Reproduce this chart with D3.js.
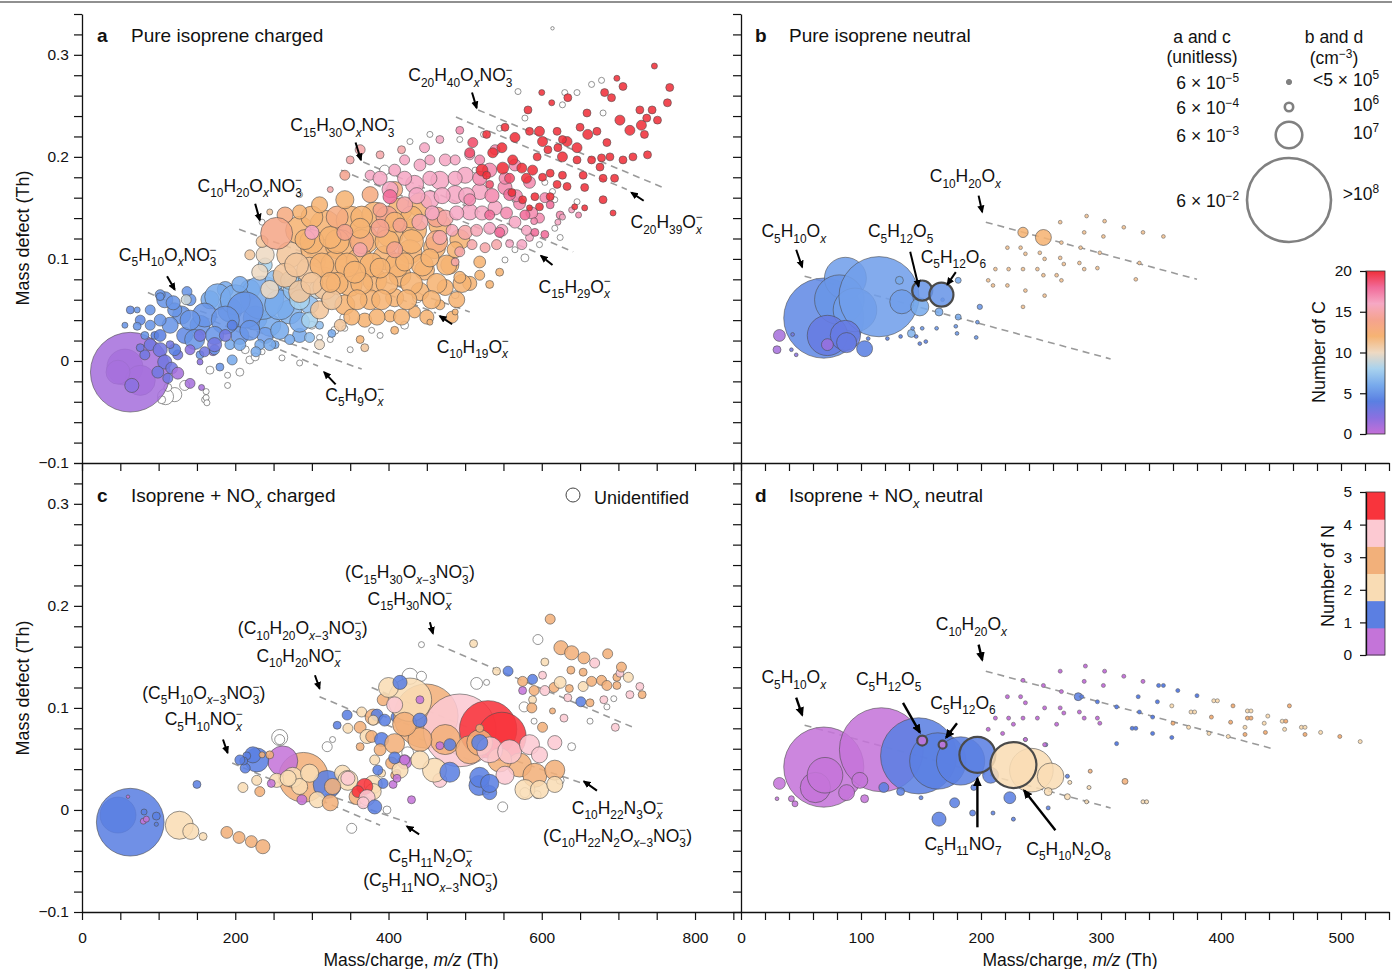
<!DOCTYPE html>
<html>
<head>
<meta charset="utf-8">
<script src="https://cdn.jsdelivr.net/npm/d3@7"></script>
<style>
  body { margin: 0; background: #fff; }
  text { font-family: "Liberation Sans", Arial, Helvetica, sans-serif; fill: #111; }
</style>
</head>
<body>
<svg id="fig" width="1392" height="969"></svg>
<script>
// ---------- data: [m/z (Th), mass defect (Th), signal, number of C or N] ----------
// a: pure isoprene, charged (signal unitless); nC = number of carbon atoms
var aPurple = [
  [56,-0.006,0.011,1],[76,-0.019,0.0077,1],[47,-0.011,0.0049,1],[63,-0.011,0.054,1],
  [89,0.016,0.0012,3],[102,0.011,0.0017,3],[82,0.006,0.00085,3],[108,-0.001,0.0017,3],[99,-0.011,0.0012,3],
  [117,-0.007,0.0012,3],[125,0.006,0.00085,3],[76,0.013,0.00054,3],[95,0.025,0.00054,4],[112,-0.017,0.00085,3],
  [65,-0.024,0.0017,2],[125,-0.012,0.0012,1],[141,-0.022,0.00085,1],[156,-0.026,0.00031,1],[171,0.009,0.00054,2],[154,-0.001,0.00031,2]
];
var aC5 = [
  [108,0.060,0.0022,5],[130,0.045,0.0028,5],[154,0.035,0.0034,5],[193,0.050,0.0049,5.5],[226,0.042,0.0049,5.5],
  [245,0.035,0.0041,6],[271,0.048,0.0049,6.5],[167,0.060,0.0028,6],[219,0.070,0.0034,6.5],[187,0.070,0.0022,6],
  [134,0.025,0.0022,4.5],[206,0.025,0.0028,5],[239,0.025,0.0022,5.5],[284,0.025,0.0017,6],[102,0.025,0.0012,4],
  [121,0.011,0.0012,4],[76,0.040,0.00085,4.5],[63,0.050,0.00054,4.5],
  [177,0.063,0.0057,6],[235,0.062,0.016,6],[200,0.060,0.0077,6],[213,0.050,0.011,5],[258,0.055,0.0077,6],
  [160,0.045,0.0049,5],[187,0.040,0.0067,5],[141,0.040,0.0034,5],[115,0.035,0.0022,5],[147,0.021,0.0034,5],
  [173,0.025,0.0028,5],[219,0.030,0.0034,5],[258,0.030,0.0028,6],[284,0.038,0.0034,6],[297,0.055,0.0028,7],
  [278,0.070,0.0049,7],[252,0.079,0.0034,7],[206,0.075,0.0022,6],[141,0.060,0.0012,5],[121,0.050,0.0017,5],
  [102,0.040,0.0012,5],[89,0.035,0.00085,5],[72,0.034,0.00054,5],[56,0.035,0.00031,5],[72,0.050,0.00031,5],
  [82,0.025,0.00054,5],[102,0.065,0.00085,5],[119,0.057,0.0017,5],[137,0.068,0.00085,5],[136,0.060,0.00085,9],
  [102,0.063,0.00054,5],[89,0.050,0.00085,5],[154,0.006,0.00054,5],[173,0.011,0.00085,5],[193,0.016,0.00085,6],
  [206,0.016,0.0012,6],[232,0.016,0.00085,6],[252,0.016,0.00054,6],[271,0.021,0.00085,6],[297,0.023,0.00085,7],
  [310,0.035,0.00054,7],[173,0.016,0.0017,3],[154,0.025,0.0012,3],[187,0.025,0.0012,3],[141,0.011,0.00085,2],
  [160,0.009,0.00085,3],[115,0.016,0.00054,3],[196,0.035,0.00085,4],[180,-0.006,0.00054,5],[196,0.001,0.00085,6],
  [227,0.009,0.00085,6],[245,0.016,0.0012,6],[326,0.027,0.00054,6],
  [271,0.079,0.0028,8],[284,0.060,0.0034,8],[308,0.070,0.0028,9],[297,0.040,0.0022,8],[324,0.060,0.0028,9],
  [317,0.084,0.0022,9],[239,0.094,0.0017,8],[310,0.097,0.0012,9]
];
var aC10 = [
  [284,0.128,0.0067,12],[317,0.133,0.0077,12],[350,0.138,0.0067,12],[382,0.143,0.0057,12],[415,0.148,0.0049,12],[441,0.153,0.0049,12],
  [271,0.104,0.0057,11],[304,0.109,0.0067,12],[337,0.114,0.0077,12],[369,0.119,0.0067,12],[402,0.124,0.0057,12],[434,0.128,0.0049,12],[467,0.133,0.0041,12],
  [265,0.084,0.0049,11],[297,0.089,0.0057,11],[330,0.094,0.0067,12],[363,0.097,0.0067,12],[395,0.101,0.0049,12],[428,0.107,0.0049,12],[460,0.111,0.0041,12],[493,0.119,0.0034,12],
  [284,0.068,0.0041,11],[317,0.072,0.0049,11],[350,0.075,0.0049,12],[382,0.079,0.0049,12],[415,0.084,0.0041,12],[447,0.089,0.0034,12],[480,0.094,0.0028,12],
  [310,0.050,0.0028,11],[343,0.055,0.0034,12],[376,0.060,0.0034,12],[408,0.062,0.0028,12],[441,0.068,0.0028,12],[474,0.072,0.0022,12],[506,0.076,0.0017,12],
  [337,0.035,0.0012,11],[369,0.040,0.0017,12],[402,0.044,0.0012,12],[434,0.048,0.0012,12],[467,0.055,0.00085,12],
  [300,0.117,0.0049,12],[333,0.117,0.0049,12],[365,0.117,0.0049,13],[398,0.117,0.0049,12],[430,0.117,0.0049,12],[463,0.117,0.0041,13],
  [280,0.094,0.0049,11],[313,0.094,0.0049,12],[346,0.094,0.0049,12],[378,0.094,0.0049,12],[411,0.094,0.0049,12],[444,0.094,0.0041,12],[476,0.094,0.0034,12],
  [300,0.076,0.0041,11],[333,0.076,0.0041,12],[365,0.076,0.0041,12],[398,0.076,0.0041,12],[430,0.076,0.0041,12],[463,0.076,0.0034,12],[496,0.076,0.0028,12],
  [326,0.060,0.0034,11],[359,0.060,0.0034,12],[391,0.060,0.0034,12],[424,0.060,0.0034,12],[456,0.060,0.0028,12],[489,0.060,0.0022,12],
  [352,0.043,0.0022,12],[385,0.043,0.0022,12],[417,0.043,0.0022,12],[450,0.043,0.0017,12],[483,0.043,0.0012,12],
  [300,0.141,0.0041,12],[333,0.141,0.0041,13],[365,0.141,0.0041,12],[398,0.141,0.0041,14],[430,0.141,0.0041,12],[463,0.141,0.0034,14],
  [239,0.104,0.0028,10],[232,0.087,0.0022,10],[245,0.070,0.0028,10],
  [310,0.153,0.0022,12],[343,0.158,0.0028,12],[376,0.163,0.0022,13],[408,0.168,0.0022,13],[284,0.146,0.0017,12],[265,0.143,0.0022,13],
  [235,0.117,0.0012,11],[219,0.104,0.00085,11],
  [291,0.119,0.0034,12],[356,0.087,0.0041,12],[324,0.077,0.0034,12],[389,0.091,0.0034,12],[421,0.097,0.0028,12],[454,0.101,0.0028,12],
  [408,0.136,0.0034,12],[363,0.130,0.0034,12],[324,0.121,0.0041,12],[487,0.109,0.0022,12],[519,0.097,0.0012,12],[519,0.084,0.00085,12],
  [493,0.082,0.0012,12],[532,0.075,0.00054,12],[545,0.087,0.00054,12],
  [343,0.126,0.0022,14],[389,0.130,0.0028,14],[408,0.109,0.0022,14],[300,0.126,0.0017,16],[363,0.109,0.0017,15],
  [254,0.125,0.0087,13.5],
  [363,0.021,0.00054,12],[408,0.030,0.00054,12],[454,0.038,0.00031,12],[487,0.048,0.00031,12],[369,0.013,0.00054,11],
  [310,0.016,0.00085,10],[245,0.146,0.00031,11],[324,0.168,0.00031,15]
];
var aC15 = [
  [376,0.182,0.00085,16],[408,0.187,0.0012,16],[441,0.192,0.0012,16],[474,0.197,0.0012,16],[506,0.202,0.00085,16],[539,0.207,0.00085,17],
  [402,0.168,0.0022,16],[434,0.173,0.0028,16],[467,0.177,0.0028,16],[500,0.182,0.0022,16],[532,0.187,0.0017,17],[565,0.192,0.0012,17],
  [421,0.153,0.0022,15],[454,0.158,0.0028,16],[487,0.163,0.0028,16],[519,0.166,0.0022,16],[552,0.170,0.0017,17],[584,0.175,0.0012,17],
  [441,0.136,0.0022,15],[474,0.140,0.0022,15],[506,0.146,0.0022,16],[539,0.150,0.0017,16],[571,0.154,0.0012,17],[604,0.160,0.00085,17],
  [467,0.121,0.0017,15],[500,0.126,0.0017,15],[532,0.130,0.0012,16],[565,0.136,0.0012,16],[597,0.140,0.00085,17],[624,0.143,0.00054,17],
  [493,0.107,0.00085,15],[526,0.111,0.00085,15],[558,0.115,0.00054,16],[584,0.121,0.00054,16],
  [389,0.179,0.0017,16],[421,0.179,0.0017,16],[454,0.179,0.0017,16],[487,0.179,0.0017,16],[519,0.179,0.0017,17],[552,0.179,0.0012,17],
  [437,0.162,0.0022,16],[470,0.162,0.0022,16],[502,0.162,0.0022,16],[535,0.162,0.0017,17],[567,0.162,0.0012,17],
  [457,0.145,0.0017,16],[489,0.145,0.0017,16],[522,0.145,0.0017,16],[554,0.145,0.0012,17],[587,0.145,0.0012,17],
  [483,0.128,0.0012,15.5],[515,0.128,0.0012,15.5],[548,0.128,0.0012,16],[580,0.128,0.00085,16],
  [509,0.114,0.00085,15],[541,0.114,0.00085,15],[574,0.114,0.00085,16],
  [421,0.197,0.00085,16],[454,0.197,0.00085,16],[487,0.197,0.00085,16],[519,0.197,0.00085,17],
  [389,0.148,0.0017,14],[415,0.133,0.0017,14],[487,0.097,0.00054,15],
  [558,0.163,0.0012,18],[532,0.143,0.00085,18],[578,0.143,0.00085,18],[545,0.126,0.00085,18],[591,0.126,0.00054,18],
  [506,0.158,0.0012,17],[611,0.153,0.00054,18],[604,0.124,0.00054,18],[402,0.161,0.0017,18],
  [363,0.207,0.00085,15],[389,0.202,0.00054,15],[417,0.207,0.00054,15],[447,0.209,0.00085,16],[350,0.197,0.00054,15],
  [343,0.182,0.00085,14],[467,0.217,0.00054,16],[493,0.226,0.00054,17],
  [639,0.148,0.00031,16],[648,0.143,0.00031,17],[627,0.141,0.00031,16],[621,0.136,0.00031,16],[590,0.137,0.0004,17]
];
var aC20 = [
  [522,0.187,0.0012,20],[549,0.189,0.0012,20],[536,0.204,0.00085,20],[548,0.209,0.00085,20],[506,0.204,0.00085,19],
  [562,0.197,0.00085,20],[574,0.189,0.00085,20],[588,0.187,0.00085,20],[580,0.179,0.00085,20],[558,0.179,0.00085,19],
  [532,0.173,0.00054,19],[528,0.182,0.00054,20],[584,0.225,0.00054,20],[597,0.225,0.00085,20],[620,0.225,0.00054,20],
  [633,0.215,0.00085,20],[646,0.209,0.00085,20],[660,0.222,0.00085,20],[672,0.225,0.00054,20],[685,0.214,0.00054,20],
  [702,0.236,0.00085,20],[715,0.226,0.00085,20],[730,0.231,0.00085,20],[737,0.238,0.00054,20],[728,0.246,0.00054,20],
  [744,0.246,0.00054,20],[751,0.236,0.00054,20],[764,0.253,0.00054,20],[767,0.268,0.00054,20],[747,0.289,0.00031,20],
  [706,0.269,0.00054,20],[698,0.277,0.00031,20],[682,0.263,0.00054,20],[691,0.258,0.00054,20],[634,0.258,0.00054,20],
  [613,0.253,0.00031,20],[582,0.246,0.00054,20],[600,0.263,0.00031,20],[659,0.243,0.00054,20],[650,0.229,0.00054,20],
  [627,0.217,0.00054,20],[621,0.209,0.00054,20],[608,0.207,0.00054,20],[601,0.215,0.00085,20],[594,0.200,0.00054,20],
  [627,0.200,0.00085,20],[646,0.197,0.00054,20],[665,0.197,0.00054,20],[678,0.199,0.00054,20],[689,0.200,0.00054,20],
  [706,0.197,0.00054,20],[719,0.200,0.00054,20],[734,0.222,0.00054,20],[738,0.202,0.00054,20],[676,0.190,0.00054,20],
  [654,0.182,0.00054,20],[680,0.179,0.00054,20],[695,0.179,0.00054,20],[656,0.170,0.00054,20],[627,0.182,0.00054,20],
  [611,0.184,0.00054,20],[601,0.180,0.00054,20],[591,0.161,0.00054,20],[620,0.173,0.00054,20],[633,0.171,0.00054,20],
  [575,0.158,0.00054,20],[561,0.165,0.00054,20],[584,0.150,0.00031,20],[597,0.151,0.00054,20],[611,0.161,0.00054,20],
  [643,0.151,0.00031,20],[656,0.150,0.00031,20],[693,0.145,0.00031,20],[510,0.214,0.00085,19],[528,0.222,0.00054,20],
  [552,0.229,0.00054,20],[565,0.219,0.00085,20],[680,0.158,0.00054,20]
];
var aUnidentified = [
  [121,-0.033,0.0017],[109,-0.035,0.0022],[112,-0.026,0.00054],[134,-0.024,0.00085],[104,-0.038,0.00054],[160,-0.038,0.00031],
  [162,-0.030,0.00031],[162,-0.036,0.00031],[163,-0.041,0.00031],[167,-0.009,0.00054],[190,-0.014,0.00031],[206,-0.011,0.00054],
  [190,-0.024,0.00031],[219,0.001,0.00054],[226,0.004,0.00054],[235,0.009,0.00031],[284,-0.002,0.00031],[261,0.003,0.00031],
  [213,0.011,0.00054],[389,0.025,0.00031],[421,0.035,0.00054],[324,0.021,0.00031],[350,0.011,0.00031],[330,0.030,0.00054],
  [378,0.030,0.00031],[343,0.042,0.00085],[438,0.062,0.00085],[487,0.065,0.00054],[235,0.136,0.00031],[284,0.163,0.00031],
  [300,0.035,0.00054],[310,0.023,0.00031],[343,0.032,0.00031],[395,0.187,0.00085],[428,0.215,0.00031],[454,0.222,0.00031],
  [493,0.217,0.00031],[513,0.187,0.00031],[565,0.109,0.00031],[578,0.101,0.00054],[597,0.114,0.00031],[617,0.130,0.00031],
  [624,0.121,0.00031],[552,0.099,0.00031],[617,0.158,0.00031],[646,0.156,0.00031],[614,0.166,0.00031],[630,0.263,0.00031],
  [646,0.263,0.00031],[569,0.264,0.00031],[665,0.271,0.00031],[678,0.275,0.00031],[680,0.243,0.00031],[627,0.251,0.00031],
  [578,0.238,0.00031],[545,0.228,0.00031],[524,0.222,0.00031],[565,0.158,0.00031],[604,0.175,0.00031],[614,0.326,0.00008]
];

// b: pure isoprene, neutral (signal in cm^-3); nC
var bPoints = [
  [69,0.042,9.1e7,4.5],[87,0.081,2.5e7,5.5],[82,0.060,3.5e7,5],[95,0.050,2.7e7,5.5],[115,0.063,9.1e7,5.5],
  [72,0.025,2.3e7,3.5],[87,0.025,1.3e7,3.5],[88,0.018,5.7e6,3.5],[72,0.016,2e6,1.5],[134,0.058,8.2e6,5.5],
  [149,0.053,4.6e6,6],[132,0.079,9e5,6],[165,0.048,9e5,6],[181,0.079,5.1e5,6],[181,0.043,5.1e5,6],[142,0.027,9e5,6.5],
  [103,0.012,3.6e6,4],[32,0.025,2e6,1],[30,0.011,9e5,1],
  [43,0.026,2e5,3],[42,0.011,2e5,3],[46,0.006,2e5,2],[122,0.022,2e5,4],[133,0.024,2e5,4],[143,0.032,2e5,5],
  [151,0.032,2e5,5],[146,0.024,2e5,4],[149,0.017,2e5,4],[154,0.019,2e5,4],[163,0.032,2e5,5],[179,0.034,2e5,5],
  [180,0.027,2e5,5],[196,0.023,2e5,5],[199,0.053,4e5,5],[197,0.038,2e5,5],[168,0.060,2e5,5],[106,0.022,2e5,4],
  [235,0.126,1.5e6,12],[252,0.121,3.6e6,12]
];
var bC10Dots = [
  [266,0.136],[288,0.142],[303,0.137],[319,0.131],[335,0.126],[352,0.122],[286,0.126],[302,0.122],[222,0.111],
  [233,0.111],[237,0.105],[249,0.106],[253,0.100],[266,0.101],[267,0.116],[269,0.095],[282,0.096],[283,0.111],
  [286,0.090],[297,0.091],[299,0.106],[329,0.080],[332,0.096],[212,0.090],[223,0.090],[235,0.090],[247,0.090],
  [252,0.084],[263,0.084],[267,0.079],[206,0.079],[210,0.074],[222,0.074],[237,0.069],[253,0.064],[235,0.053]
];
var bC10DotSignal = 2e5, bC10DotC = 11;
var bMarked = [[151,0.069,5.7e6,5],[167,0.065,8.2e6,5]];   // C5H12O5, C5H12O6

// c: isoprene + NOx, charged (signal unitless); N = number of nitrogen atoms
var cPoints = [
  [47,-0.005,0.011,1],[63,-0.012,0.039,1],[80,-0.011,0.00031,0],[84,-0.009,0.00031,0],[81,-0.002,0.00031,1],
  [97,-0.006,0.00054,1],[97,-0.014,0.00015,1],[60,0.013,0.0001,0],
  [127,-0.015,0.0067,2],[142,-0.021,0.0022,2],[158,-0.026,0.00054,2],
  [189,-0.022,0.0012,3],[205,-0.027,0.0012,3],[221,-0.031,0.0012,3],[236,-0.036,0.0017,3],[150,0.025,0.00054,1],
  [289,0.032,0.021,3],[262,0.048,0.0077,0],[228,0.049,0.0049,1],[223,0.054,0.0022,1],[320,0.025,0.0067,1],
  [275,0.032,0.0034,2],[340,0.036,0.0022,2],[347,0.029,0.0034,2],[380,0.025,0.0028,2],[380,0.018,0.0022,2],
  [307,0.010,0.0022,2],[284,0.023,0.0022,2],[254,0.029,0.0017,2],[269,0.031,0.0022,2],[297,0.036,0.0028,2],
  [228,0.029,0.00085,2],[210,0.022,0.00085,2],
  [359,0.013,0.0022,3],[327,0.023,0.0022,3],[324,0.007,0.0022,3],[232,0.018,0.00085,3],[245,0.054,0.00054,3],[235,0.054,0.00031,3],
  [369,0.023,0.0022,5],[360,0.018,0.0012,5],[347,0.031,0.0017,4],[372,0.012,0.0022,4],[367,0.007,0.0012,4],
  [382,0.003,0.0017,1],[213,0.041,0.00085,1],[215,0.053,0.00054,1],[211,0.048,0.00054,1],[206,0.049,0.00085,1],[393,0.026,0.00085,1],
  [247,0.026,0.00054,0],[287,0.010,0.00085,0],[406,0.025,0.00054,0],[421,0.047,0.0017,0],[411,0.036,0.00054,0],
  [391,0.036,0.00054,2],[408,0.034,0.00054,3],
  [346,0.093,0.00085,1],[333,0.083,0.00054,1],[347,0.080,0.00085,2],[365,0.096,0.00085,2],[380,0.091,0.0022,3],
  [363,0.081,0.0012,3],[372,0.072,0.0017,2],[378,0.072,0.0012,3],[391,0.069,0.0017,1],[389,0.059,0.0012,3],
  [382,0.049,0.00085,2],[404,0.046,0.0012,3],[363,0.062,0.00054,3],[385,0.093,0.0012,1],[393,0.108,0.0012,3],
  [380,0.088,0.00085,2],[411,0.091,0.0012,1],
  [449,0.092,0.035,3],[428,0.108,0.016,2],[493,0.078,0.045,4],[530,0.079,0.028,5],[548,0.072,0.02,5],
  [474,0.069,0.0077,3],[506,0.059,0.0067,3],[441,0.069,0.0049,3],[421,0.084,0.0049,3],[408,0.065,0.0034,3],
  [571,0.044,0.0049,3],[591,0.034,0.0049,3],[617,0.039,0.0034,3],[545,0.049,0.0049,3],[519,0.066,0.0057,3],
  [532,0.059,0.0057,4],[558,0.057,0.0049,4],[584,0.064,0.0034,4],[597,0.054,0.0022,4],[552,0.034,0.0028,4],
  [617,0.066,0.0017,4],[408,0.103,0.0022,4],[467,0.029,0.0017,4],
  [460,0.039,0.0049,2],[578,0.020,0.0034,2],[441,0.049,0.0028,2],[415,0.039,0.0022,2],[597,0.020,0.0028,2],
  [617,0.025,0.0022,2],[400,0.120,0.0034,2],
  [480,0.037,0.0034,1],[519,0.066,0.0022,1],[518,0.024,0.0034,1],[532,0.017,0.0017,1],[415,0.125,0.0017,1],
  [441,0.088,0.0017,1],[395,0.088,0.0012,1],[386,0.039,0.00085,1],[408,0.051,0.0012,1],[480,0.064,0.0012,1],
  [519,0.032,0.0034,1],[532,0.026,0.0028,1],
  [441,0.108,0.00054,0],[467,0.063,0.00054,0],[421,0.049,0.00085,0],[411,0.031,0.00054,0],[430,0.010,0.00054,0],
  [611,0.187,0.00085,3],[625,0.159,0.0017,3],[639,0.154,0.0017,3],[655,0.149,0.0012,3],[669,0.144,0.00085,4],
  [686,0.153,0.00085,3],[511,0.163,0.00054,2],[541,0.136,0.00054,2],[556,0.136,0.00085,1],[604,0.145,0.00054,2],
  [601,0.132,0.00054,4],[588,0.128,0.00085,1],[575,0.126,0.00085,3],[590,0.117,0.00085,3],[604,0.117,0.00085,4],
  [616,0.120,0.00085,3],[624,0.125,0.0012,2],[636,0.119,0.00054,3],[638,0.137,0.00054,3],[654,0.135,0.00054,3],
  [654,0.121,0.00085,2],[665,0.126,0.00085,3],[678,0.127,0.00085,3],[685,0.122,0.00085,3],[698,0.130,0.00054,3],
  [702,0.134,0.00054,4],[704,0.140,0.00085,3],[713,0.130,0.00085,2],[731,0.113,0.00054,3],[728,0.121,0.00054,4],
  [715,0.113,0.00054,4],[698,0.122,0.00054,3],[575,0.117,0.00054,0],[588,0.108,0.00054,2],[634,0.110,0.00054,4],
  [651,0.106,0.00085,1],[663,0.105,0.00054,3],[681,0.108,0.00054,4],[696,0.081,0.00054,4],[629,0.090,0.00054,4],
  [614,0.097,0.00031,3],[587,0.100,0.00085,3],[601,0.081,0.00085,3],[519,0.080,0.00054,3]
];
var cUnidentified = [
  [258,0.071,0.0022],[258,0.069,0.00085],[320,0.062,0.00085],[327,0.069,0.00031],[398,0.000,0.00054],[352,-0.018,0.00085],
  [425,0.056,0.0012],[595,0.167,0.00085],[694,0.109,0.00031],[685,0.101,0.00031],[663,0.087,0.00031],[577,0.101,0.00085],
  [590,0.087,0.00031],[639,0.062,0.00054],[624,0.029,0.00054],[578,0.017,0.00085],[594,0.015,0.00054],[549,0.003,0.00085],
  [528,0.018,0.00031],[443,0.162,0.00031],[428,0.131,0.0022],[443,0.131,0.00085],[515,0.124,0.0012],[528,0.125,0.00031]
];

// d: isoprene + NOx, neutral (signal in cm^-3); N
var dPoints = [
  [69,0.042,9.1e7,0],[62,0.022,1.3e7,0],[70,0.034,1.8e7,0],[117,0.059,1e8,0],[148,0.053,8.2e7,1],[164,0.048,4.5e7,1],
  [183,0.048,3.3e7,1],[242,0.039,2.7e7,2],[258,0.033,1e7,2],
  [32,0.026,2e6,0],[88,0.017,3.6e6,0],[99,0.029,3.6e6,0],[103,0.011,9e5,0],[30,0.011,2e5,0],[42,0.011,5e5,0],[45,0.006,5e5,0],
  [119,0.022,1.4e6,1],[133,0.018,9e5,1],[150,0.012,2.3e5,1],[165,-0.009,2.8e6,1],[178,0.007,1.4e6,1],[194,0.022,5e5,1],
  [193,-0.003,5e5,1],[210,-0.003,2.3e5,1],[224,0.012,2e6,1],[227,-0.009,2.3e5,1],[256,0.002,2.3e5,1],[208,0.034,3.6e6,1],
  [272,0.013,5e5,2],[256,0.018,9e5,2],[288,0.008,2.3e5,2],[274,0.027,2.3e5,2],[291,0.038,2.3e5,3],[290,0.022,2.3e5,2],
  [320,0.028,5e5,3],[335,0.008,2.3e5,2],[338,0.008,2.3e5,2],[254,0.064,2.3e5,1],[237,0.069,2.3e5,1],[272,0.033,2.3e5,1],
  [281,0.111,9e5,1]
];
var dDots = [   // [m/z, mass defect, N], all below 5e5 cm^-3
  [266,0.136,0],[287,0.141,0],[303,0.136,0],[319,0.131,0],[335,0.126,0],[286,0.126,0],[302,0.122,0],[235,0.127,0],
  [252,0.122,0],[267,0.116,0],[222,0.111,0],[233,0.111,0],[237,0.105,0],[253,0.100,0],[266,0.100,0],[269,0.095,0],
  [282,0.096,0],[286,0.090,0],[297,0.090,0],[299,0.085,0],[212,0.090,0],[223,0.090,0],[235,0.090,0],[247,0.090,0],
  [263,0.084,0],[206,0.079,0],[218,0.075,0],[227,0.084,0],[253,0.064,0],[237,0.069,0],
  [284,0.111,1],[297,0.106,1],[313,0.101,1],[331,0.111,1],[347,0.106,1],[364,0.117,1],[348,0.122,1],[352,0.122,1],
  [380,0.112,1],[326,0.080,1],[329,0.080,1],[343,0.075,1],[359,0.071,1],[313,0.065,1],[332,0.096,1],[343,0.091,1],
  [360,0.085,3],[373,0.081,2],[375,0.096,2],[378,0.096,2],[392,0.091,3],[390,0.075,2],[394,0.107,2],[397,0.107,2],
  [410,0.102,3],[406,0.072,2],[408,0.086,3],[420,0.081,2],[420,0.074,3],[422,0.097,2],[425,0.097,2],[422,0.090,3],
  [425,0.090,3],[436,0.085,2],[437,0.076,3],[439,0.092,2],[451,0.087,2],[454,0.087,3],[453,0.079,2],[457,0.102,3],
  [467,0.081,2],[470,0.081,2],[470,0.074,3],[483,0.076,2],[499,0.072,3],[516,0.067,2],[359,0.102,2]
];
var dDotSignal = 2.3e5;
var dMarked = [[151,0.068,1.4e6,0],[168,0.064,9e5,0],[197,0.054,1.84e7,1],[227,0.044,3e7,2]];

// dashed homologous-series guides: [m/z start, MD start, m/z end, MD end]
var aGuides = [[86,0.067,308,-0.005],[154,0.049,365,-0.008],[205,0.129,506,0.048],[284,0.099,462,0.047],
               [367,0.195,641,0.107],[338,0.187,594,0.106],[517,0.246,758,0.170],[488,0.239,711,0.168]];
var bGuides = [[53,0.083,308,0.002],[204,0.136,380,0.080]];
var cGuides = [[196,0.046,389,-0.015],[258,0.031,424,-0.012],[310,0.111,506,0.049],[389,0.093,650,0.027],
               [464,0.162,719,0.081],[378,0.120,545,0.068]];
var dGuides = [[53,0.083,308,0.002],[204,0.136,443,0.060]];

// formula labels: [text, m/z, MD] and arrows [m/z1, MD1, m/z2, MD2]
var aLabels = [["C|_5|H|_10|O|_*x|NO|_3|^\u2212",112,0.098],["C|_10|H|_20|O|_*x|NO|_3|^\u2212",219,0.166],
  ["C|_15|H|_30|O|_*x|NO|_3|^\u2212",340,0.225],["C|_20|H|_40|O|_*x|NO|_3|^\u2212",494,0.274],
  ["C|_5|H|_9|O|_*x|^\u2212",356,-0.039],["C|_10|H|_19|O|_*x|^\u2212",510,0.008],
  ["C|_15|H|_29|O|_*x|^\u2212",643,0.067],["C|_20|H|_39|O|_*x|^\u2212",763,0.130]];
var aArrows = [[111,0.083,121,0.070],[226,0.154,232,0.138],[357,0.214,364,0.197],[509,0.263,515,0.248],
  [331,-0.023,316,-0.011],[483,0.036,467,0.044],[614,0.094,599,0.103],[733,0.157,717,0.165]];
var bLabels = [["C|_5|H|_10|O|_*x",44,0.121],["C|_5|H|_12|O|_5",133,0.121],["C|_5|H|_12|O|_6",177,0.096],["C|_10|H|_20|O|_*x",187,0.175]];
var bArrows = [[46,0.109,51,0.092],[141,0.107,148,0.073],[179,0.087,172,0.075],[198,0.162,201,0.146]];
var cLabels = [["(C|_5|H|_10|O|_*x|_\u22123|NO|_3|^\u2212|)",159,0.109],["C|_5|H|_10|NO|_*x|^\u2212",159,0.083],
  ["(C|_10|H|_20|O|_*x|_\u22123|NO|_3|^\u2212|)",288,0.172],["C|_10|H|_20|NO|_*x|^\u2212",283,0.145],
  ["(C|_15|H|_30|O|_*x|_\u22123|NO|_3|^\u2212|)",428,0.227],["C|_15|H|_30|NO|_*x|^\u2212",428,0.201],
  ["C|_10|H|_22|N|_3|O|_*x|^\u2212",699,-0.004],["(C|_10|H|_22|N|_2|O|_*x|_\u22123|NO|_3|^\u2212|)",699,-0.031],
  ["C|_5|H|_11|N|_2|O|_*x|^\u2212",455,-0.051],["(C|_5|H|_11|NO|_*x|_\u22123|NO|_3|^\u2212|)",455,-0.075]];
var cArrows = [[184,0.069,190,0.056],[304,0.132,310,0.119],[454,0.184,458,0.173],[672,0.019,655,0.028],[440,-0.024,424,-0.016]];
var dLabels = [["C|_5|H|_10|O|_*x",44,0.124],["C|_5|H|_12|O|_5",123,0.122],["C|_5|H|_12|O|_6",185,0.099],
  ["C|_10|H|_20|O|_*x",192,0.176],["C|_5|H|_11|NO|_7",185,-0.039],["C|_5|H|_10|N|_2|O|_8",273,-0.044]];
var dArrows = [[46,0.110,51,0.093],[135,0.105,149,0.076],[180,0.085,171,0.071],[198,0.162,201,0.147],
  [197,-0.017,197,0.031],[262,-0.020,236,0.019]];

// colour bars / legends
var carbonStops = [0,2,4,6,8,10,12,14,16,18,20];
var carbonColors = ["#c46fd8","#8a70e0","#5a7fe2","#78aaec","#a8d2ee","#eed9c2","#f6b373","#f5a38e","#f6a8c4","#f16b99","#f02f3a"];
var nitrogenColors = ["#c474d9","#5b7fe2","#f9dcb4","#f2b07a","#fcc9d2","#f8343c"];
var carbonTicks = [0,5,10,15,20];
var nitrogenTicks = [0,1,2,3,4,5];
var sizeLegendUnitless = [6e-5,6e-4,6e-3,6e-2];
var sizeLegendLeftText = ["6 \u00d7 10|^\u22125","6 \u00d7 10|^\u22124","6 \u00d7 10|^\u22123","6 \u00d7 10|^\u22122"];
var sizeLegendRightText = ["<5 \u00d7 10|^5","10|^6","10|^7",">10|^8"];

// ---------- drawing ----------
var svg = d3.select("#fig");

var xL = d3.scaleLinear().domain([0, 860]).range([82, 741]);
var xR = d3.scaleLinear().domain([0, 540]).range([741, 1389]);
var yTop = d3.scaleLinear().domain([-0.1, 0.34]).range([463, 14]);
var yBot = d3.scaleLinear().domain([-0.1, 0.34]).range([912, 463]);
var rUnitless = d3.scaleSqrt().domain([0, 0.06]).range([0, 42]);
var rConc = d3.scaleSqrt().domain([0, 1e8]).range([0, 42]);
var colC = d3.scaleLinear().domain(carbonStops).range(carbonColors);
var colN = function(n) { return nitrogenColors[n]; };

var defs = svg.append("defs");
defs.append("marker").attr("id", "ah").attr("viewBox", "0 0 10 10")
  .attr("refX", 8).attr("refY", 5).attr("markerWidth", 4).attr("markerHeight", 4)
  .attr("orient", "auto")
  .append("path").attr("d", "M0,0.5L10,5L0,9.5z").attr("fill", "#000");

// rich text with sub/superscripts: tokens split by "|", "_" sub, "^" sup, "*" italic
function rich(g, x, y, spec, size, anchor, supRise) {
  var t = g.append("text").attr("x", x).attr("y", y)
    .attr("font-size", size).attr("text-anchor", anchor || "middle")
    .style("white-space", "pre");
  var shift = 0, subLen = 0, prev = "n";
  spec.split("|").forEach(function(tok) {
    var kind = "n";
    if (tok[0] === "_") { kind = "b"; tok = tok.slice(1); }
    else if (tok[0] === "^") { kind = "p"; tok = tok.slice(1); }
    var ital = false;
    if (tok[0] === "*") { ital = true; tok = tok.slice(1); }
    var target = kind === "b" ? size * 0.3 : (kind === "p" ? -size * (supRise || 0.42) : 0);
    var ts = t.append("tspan").text(tok);
    if (target - shift !== 0) ts.attr("dy", target - shift);
    shift = target;
    if (kind !== "n") ts.attr("font-size", size * 0.68);
    if (ital) ts.attr("font-style", "italic");
    if (kind === "p" && prev === "b") ts.attr("dx", -subLen);
    if (kind === "b") {
      var len = ts.node().getComputedTextLength();
      subLen = prev === "b" ? subLen + len : len;
    }
    prev = kind;
  });
  return t;
}

function circles(g, data, x, y, r, fill, opt) {
  opt = opt || {};
  g.append("g").selectAll("circle").data(data).join("circle")
    .attr("cx", function(d) { return x(d[0]); })
    .attr("cy", function(d) { return y(d[1]); })
    .attr("r", function(d) { return Math.max(opt.minR || 1.7, r(d[2])); })
    .attr("fill", fill)
    .attr("fill-opacity", opt.op == null ? 0.87 : opt.op)
    .attr("stroke", opt.stroke || "#4d4d4d")
    .attr("stroke-width", opt.sw || 0.6);
}

function guides(g, data, x, y) {
  g.append("g").selectAll("line").data(data).join("line")
    .attr("x1", function(d) { return x(d[0]); }).attr("y1", function(d) { return y(d[1]); })
    .attr("x2", function(d) { return x(d[2]); }).attr("y2", function(d) { return y(d[3]); })
    .attr("stroke", "#9a9a9a").attr("stroke-width", 1.6).attr("stroke-dasharray", "7,5");
}

function notes(g, labels, arrows, x, y, thick) {
  labels.forEach(function(l) { rich(g, x(l[1]), y(l[2]), l[0], 17.5); });
  g.append("g").selectAll("line").data(arrows).join("line")
    .attr("x1", function(d) { return x(d[0]); }).attr("y1", function(d) { return y(d[1]); })
    .attr("x2", function(d) { return x(d[2]); }).attr("y2", function(d) { return y(d[3]); })
    .attr("stroke", "#000").attr("stroke-width", thick || 2).attr("marker-end", "url(#ah)");
}

var byC = function(d) { return colC(d[3]); };
var byN = function(d) { return colN(d[3]); };

// panel a
var ga = svg.append("g");
guides(ga, aGuides, xL, yTop);
circles(ga, aUnidentified, xL, yTop, rUnitless, "#fff", { op: 1 });
circles(ga, aPurple, xL, yTop, rUnitless, byC);
circles(ga, aC5, xL, yTop, rUnitless, byC);
circles(ga, aC10, xL, yTop, rUnitless, byC);
circles(ga, aC15, xL, yTop, rUnitless, byC);
circles(ga, aC20, xL, yTop, rUnitless, byC);
notes(ga, aLabels, aArrows, xL, yTop);

// panel b
var gb = svg.append("g");
guides(gb, bGuides, xR, yTop);
circles(gb, bPoints, xR, yTop, rConc, byC);
circles(gb, bC10Dots.map(function(d) { return [d[0], d[1], bC10DotSignal, bC10DotC]; }), xR, yTop, rConc, byC, { op: 1, stroke: "#6a6a6a" });
circles(gb, bMarked, xR, yTop, rConc, byC, { stroke: "#4a4a4a", sw: 2.2 });
notes(gb, bLabels, bArrows, xR, yTop);

// panel c
var gc = svg.append("g");
guides(gc, cGuides, xL, yBot);
circles(gc, cUnidentified, xL, yBot, rUnitless, "#fff", { op: 1 });
circles(gc, cPoints, xL, yBot, rUnitless, byN);
notes(gc, cLabels, cArrows, xL, yBot);

// panel d
var gd = svg.append("g");
guides(gd, dGuides, xR, yBot);
circles(gd, dPoints, xR, yBot, rConc, byN);
circles(gd, dDots.map(function(d) { return [d[0], d[1], dDotSignal, d[2]]; }), xR, yBot, rConc, byN, { op: 1, stroke: "#6a6a6a" });
circles(gd, dMarked, xR, yBot, rConc, byN, { stroke: "#4a4a4a", sw: 2.2 });
notes(gd, dLabels, dArrows, xR, yBot, 2.4);

// ---------- axes ----------
var yTicks = d3.range(-5, 18).map(function(i) { return +(i * 0.02).toFixed(2); });
function yFmt(d) {
  if (Math.abs(d * 10 - Math.round(d * 10)) > 1e-6) return "";
  return d === 0 ? "0" : d3.format(".1f")(d);
}
function styleAxis(g) {
  g.attr("font-family", null).attr("font-size", null);
  g.selectAll("path.domain").attr("stroke", "#111").attr("stroke-width", 1.3);
  g.selectAll(".tick line").attr("stroke", "#111").attr("stroke-width", 1.2);
  g.selectAll(".tick text").attr("font-size", 15.5).attr("fill", "#222");
}
[yTop, yBot].forEach(function(y) {
  svg.append("g").attr("transform", "translate(82,0)")
    .call(d3.axisLeft(y).tickValues(yTicks).tickSize(8).tickSizeOuter(0).tickPadding(5).tickFormat(yFmt))
    .call(styleAxis);
  svg.append("g").attr("transform", "translate(741,0)")
    .call(d3.axisLeft(y).tickValues(yTicks).tickSize(8).tickSizeOuter(0).tickFormat(""))
    .call(styleAxis);
});
var xTicksL = d3.range(0, 851, 50), xTicksR = d3.range(0, 541, 20);
svg.append("g").attr("transform", "translate(0,463)")
  .call(d3.axisBottom(xL).tickValues(xTicksL).tickSize(8).tickSizeOuter(0).tickFormat("")).call(styleAxis);
svg.append("g").attr("transform", "translate(0,463)")
  .call(d3.axisBottom(xR).tickValues(xTicksR).tickSize(8).tickSizeOuter(0).tickFormat("")).call(styleAxis);
svg.append("g").attr("transform", "translate(0,912)")
  .call(d3.axisBottom(xL).tickValues(xTicksL).tickSize(8).tickSizeOuter(0).tickPadding(12)
    .tickFormat(function(d) { return d % 200 === 0 ? d : ""; })).call(styleAxis);
svg.append("g").attr("transform", "translate(0,912)")
  .call(d3.axisBottom(xR).tickValues(xTicksR).tickSize(8).tickSizeOuter(0).tickPadding(12)
    .tickFormat(function(d) { return d % 100 === 0 ? d : ""; })).call(styleAxis);

svg.append("line").attr("x1", 0).attr("x2", 1392).attr("y1", 2).attr("y2", 2).attr("stroke", "#222").attr("stroke-width", 1.2);

// axis titles
[238, 688].forEach(function(cy) {
  svg.append("text").attr("transform", "translate(29," + cy + ") rotate(-90)")
    .attr("text-anchor", "middle").attr("font-size", 18).text("Mass defect (Th)");
});
rich(svg, 411, 966, "Mass/charge, |*m/z| (Th)", 17.5);
rich(svg, 1070, 966, "Mass/charge, |*m/z| (Th)", 17.5);

// panel titles
[["a", 97, 42, "Pure isoprene charged"], ["b", 755, 42, "Pure isoprene neutral"],
 ["c", 97, 502, "Isoprene + NO|_*x| charged"], ["d", 755, 502, "Isoprene + NO|_*x| neutral"]].forEach(function(p) {
  svg.append("text").attr("x", p[1]).attr("y", p[2]).attr("font-size", 19).attr("font-weight", "bold").text(p[0]);
  rich(svg, p[1] + 34, p[2], p[3], 19, "start");
});

// unidentified legend
svg.append("circle").attr("cx", 573).attr("cy", 495).attr("r", 7).attr("fill", "#fff").attr("stroke", "#444").attr("stroke-width", 1);
svg.append("text").attr("x", 594).attr("y", 504).attr("font-size", 18).text("Unidentified");

// size legend
var lg = svg.append("g");
rich(lg, 1202, 43, "a and c", 17.5);
rich(lg, 1202, 63, "(unitless)", 17.5);
rich(lg, 1334, 43, "b and d", 17.5);
rich(lg, 1334, 64, "(cm|^\u22123|)", 17.5, "middle", 0.34);
var legY = [82, 107, 135, 200];
sizeLegendUnitless.forEach(function(v, i) {
  var r = Math.max(2.6, rUnitless(v));
  lg.append("circle").attr("cx", 1289).attr("cy", legY[i]).attr("r", r)
    .attr("fill", i === 0 ? "#808080" : "none").attr("stroke", "#808080").attr("stroke-width", i === 0 ? 1 : 2.6);
  rich(lg, 1239, legY[i] + 7, sizeLegendLeftText[i], 17.5, "end");
  rich(lg, 1379, legY[i] + (i === 3 ? 0 : 4), sizeLegendRightText[i], 17.5, "end");
});

// number of C colour bar
var grad = defs.append("linearGradient").attr("id", "gC").attr("x1", 0).attr("y1", 1).attr("x2", 0).attr("y2", 0);
d3.range(0, 20.01, 1).forEach(function(t) {
  grad.append("stop").attr("offset", t / 20).attr("stop-color", colC(t));
});
var yCbar = d3.scaleLinear().domain([0, 20]).range([434, 271]);
svg.append("rect").attr("x", 1366).attr("y", 271).attr("width", 19).attr("height", 163)
  .attr("fill", "url(#gC)").attr("stroke", "#333").attr("stroke-width", 0.8);
svg.append("g").attr("transform", "translate(1366,0)")
  .call(d3.axisLeft(yCbar).tickValues(carbonTicks).tickSize(6).tickSizeOuter(0).tickPadding(8).tickFormat(d3.format("d"))).call(styleAxis);
svg.append("text").attr("transform", "translate(1325,352) rotate(-90)").attr("text-anchor", "middle")
  .attr("font-size", 18).text("Number of C");

// number of N colour bar (six classes)
var yNbar = d3.scaleLinear().domain([0, 5]).range([655, 492]);
var blockH = (655 - 492) / nitrogenColors.length;
svg.append("g").selectAll("rect").data(nitrogenColors).join("rect")
  .attr("x", 1366).attr("width", 19)
  .attr("y", function(d, i) { return 655 - (i + 1) * blockH; }).attr("height", blockH + 0.5)
  .attr("fill", function(d) { return d; });
svg.append("rect").attr("x", 1366).attr("y", 492).attr("width", 19).attr("height", 163)
  .attr("fill", "none").attr("stroke", "#333").attr("stroke-width", 0.8);
svg.append("g").attr("transform", "translate(1366,0)")
  .call(d3.axisLeft(yNbar).tickValues(nitrogenTicks).tickSize(6).tickSizeOuter(0).tickPadding(8).tickFormat(d3.format("d"))).call(styleAxis);
svg.append("text").attr("transform", "translate(1334,576) rotate(-90)").attr("text-anchor", "middle")
  .attr("font-size", 18).text("Number of N");
</script>
</body>
</html>
